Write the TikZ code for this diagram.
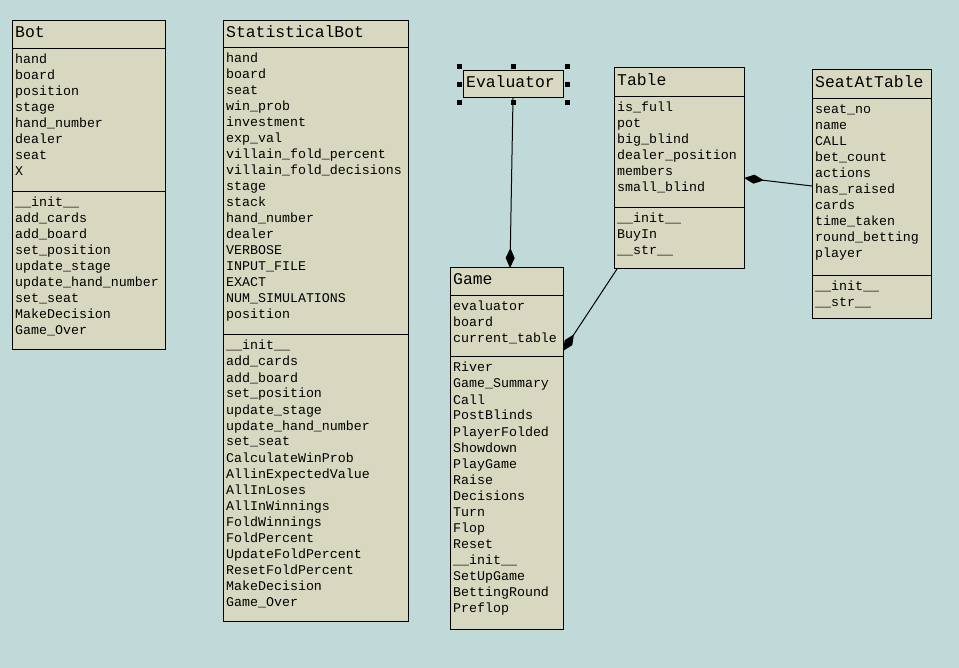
\documentclass[tikz,border=0pt]{standalone}
\usepackage{fontspec}
\usepackage{tikz}
\usetikzlibrary{arrows.meta,positioning}
\newfontfamily\umlfont{Liberation Mono}
\definecolor{canvas}{HTML}{C0DADA}
\definecolor{classfill}{HTML}{D8D8C0}
\tikzset{
  classpart/.style={draw,fill=classfill,line width=1pt,anchor=north west,inner sep=0pt,outer sep=0pt,minimum width=#1},
  member/.style={anchor=base west,inner sep=0pt,font=\umlfont\fontsize{13.3}{16}\selectfont},
  classname/.style={anchor=base west,inner sep=0pt,font=\umlfont\fontsize{16.4}{20}\selectfont},
  owns/.style={-{Diamond[length=20pt,width=9pt]},line width=1pt},
  grip/.style={fill=black,minimum size=5pt,inner sep=0pt}
}

\begin{document}
\begin{tikzpicture}[x=1pt,y=-1pt]
  \useasboundingbox (0,0) rectangle (959,668);
  \fill[canvas] (0,0) rectangle (959,668);

  % Bot
  \node[classpart=153,minimum height=27.5] (bot) at (12,21) {};
  \node[classpart=153,minimum height=143.5,below=0pt of bot] (bot-attr) {};
  \node[classpart=153,minimum height=158,below=0pt of bot-attr] (bot-ops) {};
  \node[classname] (bot-name) at ([shift={(3,16.5)}]bot.north west) {Bot};
  \foreach \m [count=\i from 0] in {hand,board,position,stage,hand\_number,dealer,seat,X}
    \node[member] (bot-a\i) at ([shift={(3,{15+16*\i})}]bot-attr.north west) {\m};
  \foreach \m [count=\i from 0] in {\_\_init\_\_,add\_cards,add\_board,set\_position,update\_stage,update\_hand\_number,set\_seat,MakeDecision,Game\_Over}
    \node[member] (bot-o\i) at ([shift={(3,{15+16*\i})}]bot-ops.north west) {\m};

  % StatisticalBot
  \node[classpart=185,minimum height=27] (sbot) at (223,21) {};
  \node[classpart=185,minimum height=287,below=0pt of sbot] (sbot-attr) {};
  \node[classpart=185,minimum height=286,below=0pt of sbot-attr] (sbot-ops) {};
  \node[classname] (sbot-name) at ([shift={(3,16.5)}]sbot.north west) {StatisticalBot};
  \foreach \m [count=\i from 0] in {hand,board,seat,win\_prob,investment,exp\_val,villain\_fold\_percent,villain\_fold\_decisions,stage,stack,hand\_number,dealer,VERBOSE,INPUT\_FILE,EXACT,NUM\_SIMULATIONS,position}
    \node[member] (sbot-a\i) at ([shift={(3,{15+16*\i})}]sbot-attr.north west) {\m};
  \foreach \m [count=\i from 0] in {\_\_init\_\_,add\_cards,add\_board,set\_position,update\_stage,update\_hand\_number,set\_seat,CalculateWinProb,AllinExpectedValue,AllInLoses,AllInWinnings,FoldWinnings,FoldPercent,UpdateFoldPercent,ResetFoldPercent,MakeDecision,Game\_Over}
    \node[member] (sbot-o\i) at ([shift={(3,{15+16*\i})}]sbot-ops.north west) {\m};

  % Evaluator
  \node[classpart=100,minimum height=27] (eval) at (463,71) {};
  \node[classname] (eval-name) at ([shift={(3,16.5)}]eval.north west) {Evaluator};

  % Game
  \node[classpart=113,minimum height=28] (game) at (450,268) {};
  \node[classpart=113,minimum height=61,below=0pt of game] (game-attr) {};
  \node[classpart=113,minimum height=272,below=0pt of game-attr] (game-ops) {};
  \node[classname] (game-name) at ([shift={(3,16.5)}]game.north west) {Game};
  \foreach \m [count=\i from 0] in {evaluator,board,current\_table}
    \node[member] (game-a\i) at ([shift={(3,{15+16*\i})}]game-attr.north west) {\m};
  \foreach \m [count=\i from 0] in {River,Game\_Summary,Call,PostBlinds,PlayerFolded,Showdown,PlayGame,Raise,Decisions,Turn,Flop,Reset,\_\_init\_\_,SetUpGame,BettingRound,Preflop}
    \node[member] (game-o\i) at ([shift={(3,{15+16*\i})}]game-ops.north west) {\m};

  % Table
  \node[classpart=130,minimum height=29] (table) at (614,68) {};
  \node[classpart=130,minimum height=111,below=0pt of table] (table-attr) {};
  \node[classpart=130,minimum height=61,below=0pt of table-attr] (table-ops) {};
  \node[classname] (table-name) at ([shift={(3,17.5)}]table.north west) {Table};
  \foreach \m [count=\i from 0] in {is\_full,pot,big\_blind,dealer\_position,members,small\_blind}
    \node[member] (table-a\i) at ([shift={(3,{15+16*\i})}]table-attr.north west) {\m};
  \foreach \m [count=\i from 0] in {\_\_init\_\_,BuyIn,\_\_str\_\_}
    \node[member] (table-o\i) at ([shift={(3,{15+16*\i})}]table-ops.north west) {\m};

  % SeatAtTable
  \node[classpart=119,minimum height=29] (seat) at (812,70) {};
  \node[classpart=119,minimum height=177,below=0pt of seat] (seat-attr) {};
  \node[classpart=119,minimum height=43,below=0pt of seat-attr] (seat-ops) {};
  \node[classname] (seat-name) at ([shift={(3,17.5)}]seat.north west) {SeatAtTable};
  \foreach \m [count=\i from 0] in {seat\_no,name,CALL,bet\_count,actions,has\_raised,cards,time\_taken,round\_betting,player}
    \node[member] (seat-a\i) at ([shift={(3,{15+16*\i})}]seat-attr.north west) {\m};
  \foreach \m [count=\i from 0] in {\_\_init\_\_,\_\_str\_\_}
    \node[member] (seat-o\i) at ([shift={(3,{15+16*\i})}]seat-ops.north west) {\m};

  % compositions
  \coordinate (evalhook) at ([shift={(60,0)}]game.north west);
  \coordinate (tablehook) at ([shift={(0,55)}]game-attr.north east);
  \coordinate (seathook) at ([shift={(0,81)}]table-attr.north east);
  \draw[owns] (eval.south) -- (evalhook);
  \draw[owns] ([shift={(3,0)}]table-ops.south west) -- (tablehook);
  \draw[owns] ([shift={(0,87)}]seat-attr.north west) -- (seathook);

  % selection grips
  \foreach \a/\dx/\dy [count=\i] in {north west/-4/-4,north/0/-4,north east/4/-4,west/-4/0,east/4/0,south west/-4/5,south/0/5,south east/4/5}
    \node[grip] (grip\i) at ([shift={(\dx,\dy)}]eval.\a) {};
\end{tikzpicture}
\end{document}
